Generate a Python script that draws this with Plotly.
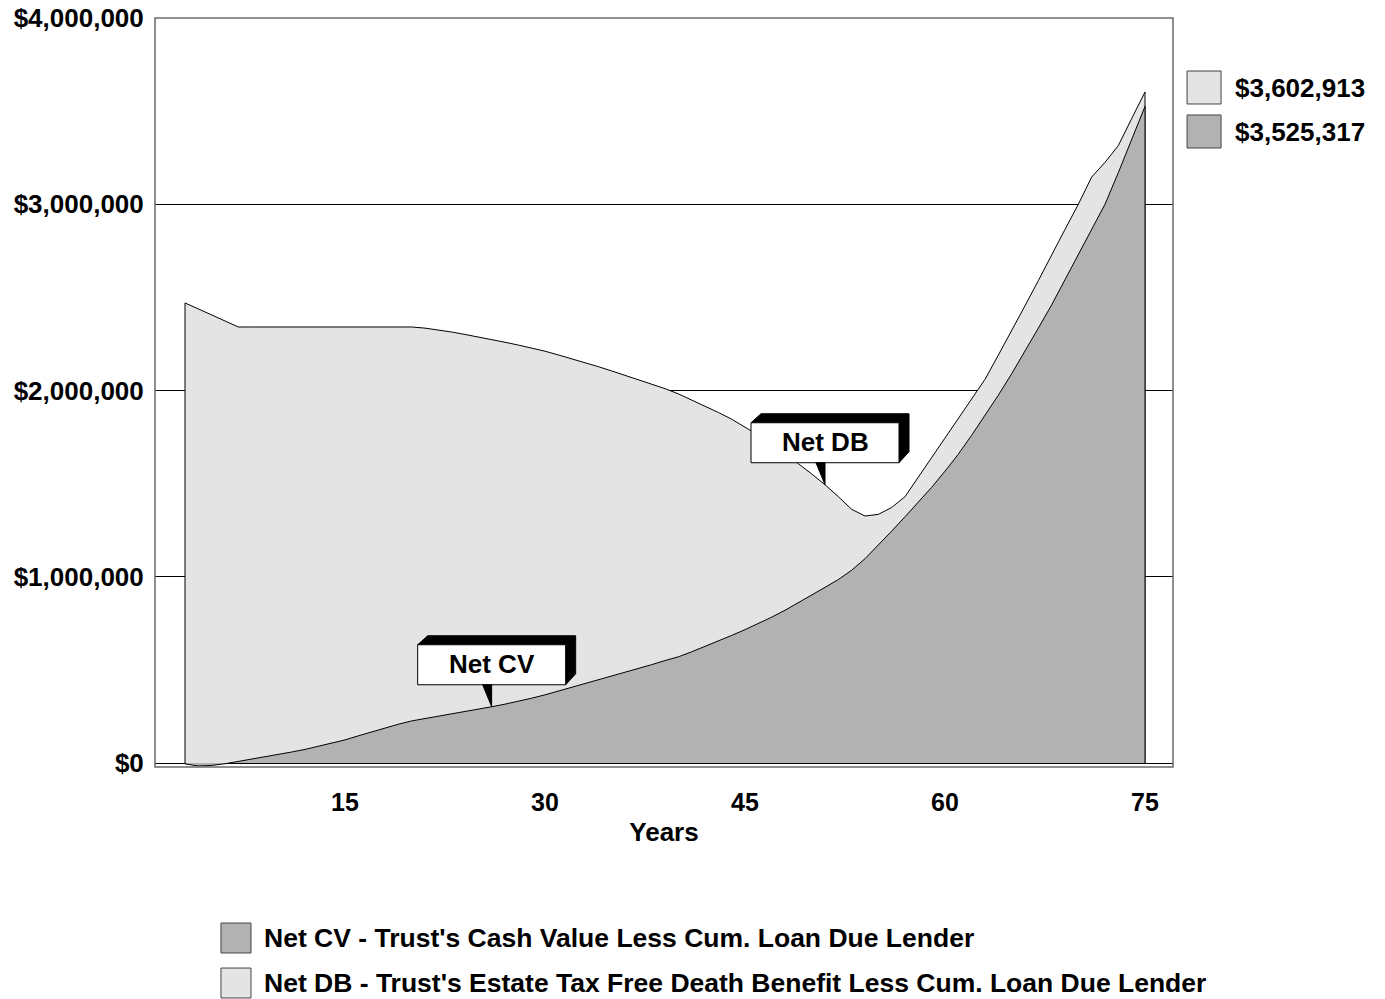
import plotly.graph_objects as go

# ---------------- data ----------------
years = list(range(3, 76))

net_db = [
    2470000, 2438000, 2405000, 2373000, 2341000,                     # 3-7
    2341000, 2341000, 2341000, 2341000, 2341000, 2341000, 2341000,   # 8-14
    2341000, 2341000, 2341000, 2341000, 2341000, 2341000,            # 15-20
    2335000, 2326000, 2314000, 2301000, 2288000,                     # 21-25
    2274000, 2259000, 2244000, 2229000, 2211000,                     # 26-30
    2191000, 2171000, 2150000, 2128000, 2105000,                     # 31-35
    2082000, 2058000, 2034000, 2010000, 1982000,                     # 36-40
    1950000, 1917000, 1882000, 1846000, 1805000,                     # 41-45
    1760000, 1713000, 1662000, 1607000, 1552000,                     # 46-50
    1494000, 1430000, 1362000, 1326000, 1335000,                     # 51-55
    1372000, 1430000, 1535000, 1640000, 1745000,                     # 56-60
    1850000, 1950000, 2060000, 2190000, 2320000,                     # 61-65
    2455000, 2590000, 2730000, 2865000, 3000000,                     # 66-70
    3146000, 3225000, 3315000, 3460000, 3602913,                     # 71-75
]

net_cv = [
    -5000, -16000, -13000, -4000, 8000,                              # 3-7
    20000, 32000, 46000, 59000, 73000, 89000, 105000,                # 8-14
    124000, 146000, 168000, 189000, 208000, 226000,                  # 15-20
    238000, 251000, 264000, 277000, 289000,                          # 21-25
    302000, 316000, 331000, 348000, 366000,                          # 26-30
    386000, 405000, 424000, 444000, 464000,                          # 31-35
    485000, 506000, 528000, 550000, 570000,                          # 36-40
    597000, 625000, 655000, 685000, 716000,                          # 41-45
    749000, 783000, 820000, 860000, 900000,                          # 46-50
    943000, 985000, 1035000, 1097000, 1170000,                       # 51-55
    1245000, 1322000, 1400000, 1480000, 1567000,                     # 56-60
    1658000, 1760000, 1865000, 1975000, 2090000,                     # 61-65
    2210000, 2335000, 2460000, 2595000, 2730000,                     # 66-70
    2865000, 3000000, 3170000, 3345000, 3525317,                     # 71-75
]

series_names = [
    "Net CV - Trust's Cash Value Less Cum. Loan Due Lender",
    "Net DB - Trust's Estate Tax Free Death Benefit Less Cum. Loan Due Lender",
]
callout_labels = ["Net DB", "Net CV"]
callout_years = [51, 26]

x_tick_vals = [15, 30, 45, 60, 75]
x_tick_text = ["15", "30", "45", "60", "75"]
y_tick_vals = [0, 1000000, 2000000, 3000000, 4000000]
y_tick_text = ["$" + format(v, ",d") for v in y_tick_vals]

DB_FILL = "#e4e4e4"
CV_FILL = "#b2b2b2"
FONT = "Liberation Sans, Arial, sans-serif"

fig = go.Figure()


def closed(xs, ys):
    return [xs[0]] + list(xs) + [xs[-1]], [0] + list(ys) + [0]


dx, dy = closed(years, net_db)
fig.add_trace(go.Scatter(x=dx, y=dy, mode="lines", fill="toself",
                         fillcolor=DB_FILL, line=dict(color="black", width=1),
                         hoverinfo="skip", showlegend=False))
cx, cy = closed(years, net_cv)
fig.add_trace(go.Scatter(x=cx, y=cy, mode="lines", fill="toself",
                         fillcolor=CV_FILL, line=dict(color="black", width=1),
                         hoverinfo="skip", showlegend=False))

shapes = []
annotations = []

# callouts (pixel geometry anchored to a data point)
series_for_callout = [net_db, net_cv]
for lbl, yr, ser in zip(callout_labels, callout_years, series_for_callout):
    ay = ser[years.index(yr)]
    common = dict(xref="x", yref="y", xsizemode="pixel", ysizemode="pixel",
                  xanchor=yr, yanchor=ay, layer="above")
    shapes.append(dict(type="path", **common,
                       path="M -74 62 L -64 71 L 84 71 L 84 33 L 74 22 L 74 62 Z",
                       fillcolor="black", line=dict(color="black", width=1)))
    shapes.append(dict(type="path", **common,
                       path="M -74 22 L 74 22 L 74 62 L -74 62 Z",
                       fillcolor="white", line=dict(color="black", width=1)))
    shapes.append(dict(type="path", **common,
                       path="M -9 22 L 0 22 L 0 0 Z",
                       fillcolor="black", line=dict(color="black", width=1)))
    annotations.append(dict(x=yr, y=ay, xref="x", yref="y", text=lbl,
                            showarrow=False, yshift=43, xshift=0,
                            font=dict(family=FONT, size=26, color="black", weight="bold")))

# plot frame
shapes.append(dict(type="rect", xref="paper", yref="paper", x0=0, y0=0, x1=1, y1=1,
                   line=dict(color="#6a6a6a", width=1.5), layer="above"))

# right-side value legend
right_vals = [net_db[-1], net_cv[-1]]
right_cols = [DB_FILL, CV_FILL]
right_rows = [(0.9292, 0.8852), (0.8705, 0.8264)]
for v, col, (ytop, ybot) in zip(right_vals, right_cols, right_rows):
    shapes.append(dict(type="rect", xref="paper", yref="paper", x0=1.0138, x1=1.0472,
                       y0=ybot, y1=ytop, fillcolor=col, line=dict(color="#444", width=1)))
    annotations.append(dict(x=1.0589, y=(ytop + ybot) / 2, xref="paper", yref="paper",
                            xanchor="left", yanchor="middle", showarrow=False,
                            text="$" + format(round(v), ",d"),
                            font=dict(family=FONT, size=26, color="black", weight="bold")))

# bottom legend
bottom_cols = [CV_FILL, DB_FILL]
bottom_rows = [(-0.2083, -0.2483), (-0.2684, -0.3084)]
for name, col, (ytop, ybot) in zip(series_names, bottom_cols, bottom_rows):
    shapes.append(dict(type="rect", xref="paper", yref="paper", x0=0.0648, x1=0.0943,
                       y0=ybot, y1=ytop, fillcolor=col, line=dict(color="#444", width=1)))
    annotations.append(dict(x=0.1051, y=(ytop + ybot) / 2, xref="paper", yref="paper",
                            xanchor="left", yanchor="middle", showarrow=False, text=name,
                            font=dict(family=FONT, size=26.5, color="black", weight="bold")))

fig.update_layout(
    width=1385, height=999,
    margin=dict(l=155, r=212, t=18, b=232, autoexpand=False),
    paper_bgcolor="white", plot_bgcolor="white",
    showlegend=False,
    shapes=shapes, annotations=annotations,
    font=dict(family=FONT, color="black"),
    xaxis=dict(range=[0.75, 77.1], tickvals=x_tick_vals, ticktext=x_tick_text,
               showgrid=False, zeroline=False, showline=False,
               ticks="outside", ticklen=13, tickcolor="rgba(0,0,0,0)",
               tickfont=dict(family=FONT, size=25, color="black", weight="bold"),
               title=dict(text="Years", standoff=7,
                          font=dict(family=FONT, size=26, color="black", weight="bold"))),
    yaxis=dict(range=[-21476, 4000000], tickvals=y_tick_vals, ticktext=y_tick_text,
               showgrid=True, gridcolor="black", gridwidth=1, zeroline=False,
               showline=False, ticks="outside", ticklen=5, tickcolor="rgba(0,0,0,0)",
               tickfont=dict(family=FONT, size=26, color="black", weight="bold")),
)

fig.write_html("out.html", config={"displayModeBar": False},
               post_script="document.body.style.margin='0px';document.body.style.overflow='hidden';")
